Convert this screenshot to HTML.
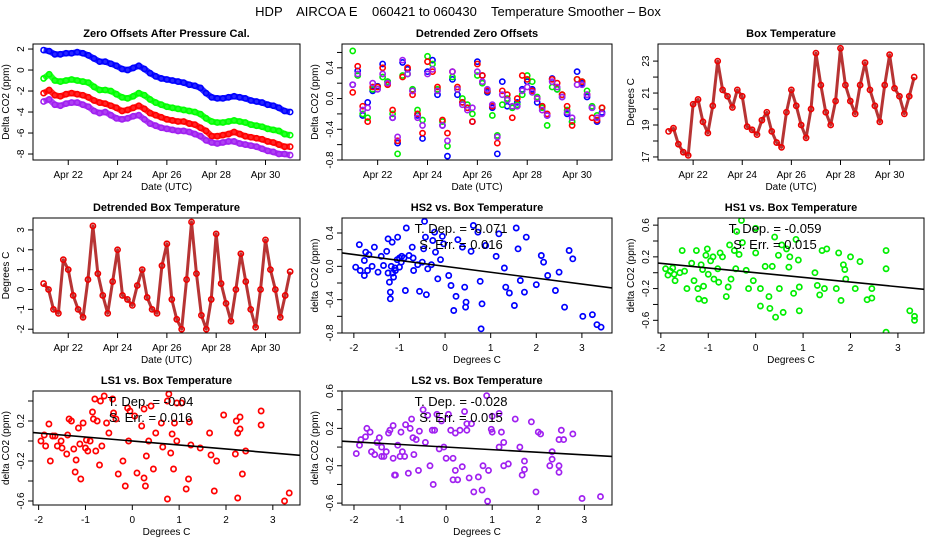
<!DOCTYPE html>
<html><head><meta charset="utf-8"><style>
html,body{margin:0;padding:0;background:#fff;}
svg{display:block;font-family:"Liberation Sans",sans-serif;}
</style></head><body>
<svg id="chart" width="936" height="540" viewBox="0 0 936 540" xmlns="http://www.w3.org/2000/svg">
<rect x="0" y="0" width="936" height="540" fill="#fff"/>
<text x="458" y="16" text-anchor="middle" font-size="13" xml:space="preserve">HDP    AIRCOA E    060421 to 060430    Temperature Smoother – Box</text>
</svg>
<script>
// ---------- DATA ----------
const startDay = 21.0;
const endDay = 31.0;
const dayTicks = [22, 24, 26, 28, 30];
const dayTickLabels = ["Apr 22", "Apr 24", "Apr 26", "Apr 28", "Apr 30"];

const zeroBlue = [1.9,1.8,1.5,1.5,1.6,1.6,1.7,1.6,1.4,1.1,0.8,0.8,0.6,0.4,0.1,0.0,0.2,0.4,0.1,-0.3,-0.6,-0.8,-0.9,-1.0,-1.1,-1.2,-1.4,-1.5,-1.7,-2.2,-2.6,-2.7,-2.7,-2.6,-2.5,-2.6,-2.7,-2.9,-3.0,-3.1,-3.3,-3.4,-3.6,-3.9,-4.0];
const zeroGreen = [-0.8,-0.4,-1.0,-1.1,-1.0,-0.9,-1.0,-1.1,-1.2,-1.6,-1.9,-1.9,-2.0,-2.3,-2.6,-2.7,-2.5,-2.2,-2.4,-2.8,-3.1,-3.3,-3.5,-3.6,-3.7,-3.8,-3.9,-4.0,-4.2,-4.6,-4.9,-5.0,-5.0,-4.9,-4.8,-4.9,-5.0,-5.2,-5.3,-5.4,-5.6,-5.7,-5.8,-6.1,-6.2];
const zeroRed = [-2.2,-1.9,-2.4,-2.5,-2.3,-2.2,-2.3,-2.4,-2.6,-2.9,-3.1,-3.2,-3.4,-3.6,-3.9,-3.8,-3.6,-3.4,-3.7,-4.1,-4.3,-4.5,-4.7,-4.8,-4.9,-4.9,-5.1,-5.2,-5.5,-5.8,-6.3,-6.3,-6.2,-6.1,-5.9,-6.1,-6.3,-6.4,-6.5,-6.6,-6.8,-6.9,-7.1,-7.3,-7.3];
const zeroPurple = [-3.0,-2.8,-3.3,-3.4,-3.2,-3.1,-3.1,-3.3,-3.5,-3.9,-4.1,-4.0,-4.3,-4.6,-4.7,-4.6,-4.4,-4.3,-4.7,-5.1,-5.3,-5.5,-5.6,-5.7,-5.8,-5.8,-5.9,-6.1,-6.3,-6.7,-6.9,-7.0,-6.9,-6.8,-6.8,-7.0,-7.1,-7.2,-7.3,-7.5,-7.7,-7.8,-8.0,-8.0,-8.1];

const detBlue = [0.18,0.36,-0.22,-0.05,0.1,0.16,0.45,0.22,-0.25,-0.58,0.47,0.38,0.1,-0.22,-0.52,0.35,0.5,0.05,-0.35,-0.75,0.25,0.05,-0.05,-0.12,-0.3,0.48,0.3,0.08,-0.12,-0.72,0.22,-0.1,-0.12,-0.05,0.12,0.22,0.12,-0.05,-0.1,-0.22,0.26,0.12,0.02,-0.2,-0.3,0.35,0.2,0.02,-0.12,-0.3,-0.18];
const detGreen = [0.62,0.3,-0.2,-0.25,0.12,0.15,0.28,0.22,-0.2,-0.72,0.3,0.32,0.12,-0.15,-0.28,0.55,0.45,0.12,-0.3,-0.62,0.28,0.12,0.0,-0.08,-0.2,0.3,0.2,0.1,-0.22,-0.48,-0.08,0.0,-0.12,-0.08,0.05,0.3,0.22,0.02,-0.12,-0.35,0.15,0.12,0.05,-0.15,-0.3,0.25,0.22,0.1,-0.1,-0.22,-0.12];
const detRed = [0.08,0.42,-0.1,-0.3,0.15,0.15,0.4,0.18,-0.15,-0.55,0.28,0.4,0.05,-0.2,-0.45,0.48,0.35,0.15,-0.28,-0.45,0.35,0.15,-0.05,-0.12,-0.3,0.45,0.3,0.1,-0.1,-0.58,0.1,0.05,-0.25,0.0,0.3,0.25,0.1,0.0,-0.1,-0.2,0.25,0.2,0.05,-0.1,-0.35,0.25,0.22,0.05,-0.25,-0.28,-0.12];
const detPurple = [0.18,0.32,-0.15,-0.12,0.2,0.12,0.32,0.2,-0.25,-0.5,0.5,0.32,0.1,-0.25,-0.35,0.32,0.38,0.1,-0.35,-0.55,0.35,0.12,-0.08,-0.15,-0.12,0.35,0.22,0.12,-0.08,-0.5,0.05,-0.02,-0.1,-0.1,0.1,0.15,0.08,0.0,-0.15,-0.22,0.22,0.15,0.02,-0.18,-0.25,0.18,0.18,0.05,-0.12,-0.25,-0.2];

const boxTemp = [18.6,18.8,17.8,17.3,17.1,20.3,20.6,19.2,18.5,20.2,23.0,21.2,20.8,20.1,21.2,20.8,18.9,18.7,18.4,19.3,19.8,18.6,17.9,17.6,19.8,21.2,20.2,19.0,18.2,20.0,23.5,21.5,19.8,19.0,20.5,23.8,21.5,20.5,19.7,21.5,22.9,21.2,20.2,19.2,21.5,23.4,21.3,20.8,19.7,20.8,22.0];
const detBoxTemp = [0.3,0.0,-1.0,-1.2,1.5,1.0,-0.3,-1.0,-1.4,0.5,3.2,0.8,-0.3,-1.2,0.4,2.0,-0.3,-0.5,-0.8,0.2,1.0,-0.4,-1.0,-1.2,1.2,2.3,-0.5,-1.5,-2.0,0.5,3.4,0.8,-1.3,-2.0,-0.5,2.8,0.3,-0.7,-1.6,0.0,1.8,0.4,-1.0,-1.9,0.0,2.5,1.0,0.0,-1.4,-0.3,0.9];

const tempTicks = [-2, -1, 0, 1, 2, 3];

const hs2Temp = [-1.96,-1.86,-1.77,-1.77,-1.74,-1.88,-1.67,-1.55,-1.47,-1.35,-1.28,-1.25,-1.22,-1.2,-1.2,-1.16,-1.13,-1.09,-1.04,-1.0,-0.96,-0.87,-0.85,-0.79,-0.72,-0.69,-0.56,-0.47,-0.45,-0.43,-0.41,-0.38,-0.27,-0.23,-0.21,-0.16,-0.06,-0.03,0.08,0.13,0.19,0.24,0.28,0.38,0.43,0.45,0.46,0.57,0.62,0.72,0.77,0.79,0.81,0.89,1.12,1.18,1.3,1.33,1.41,1.52,1.56,1.6,1.65,1.74,1.78,2.0,2.11,2.16,2.25,2.5,2.42,2.62,2.72,2.8,3.02,3.23,3.33,3.42,-1.15,-1.1,-1.05,-1.0,-0.95,-0.9,-1.25,-1.18,-0.6,-0.5,-0.3,-0.1,-0.7,-1.4,-1.6,-1.7];
const hs2CO2 = [-0.01,-0.05,-0.11,0.07,0.17,0.26,0.14,0.23,-0.07,0.01,0.18,0.33,-0.19,-0.39,-0.31,0.29,-0.13,-0.05,0.35,-0.01,0.05,-0.29,0.46,0.13,0.23,-0.05,-0.3,0.21,0.54,0.35,-0.34,-0.03,0.31,0.41,0.17,-0.15,0.36,0.27,-0.11,-0.23,-0.53,-0.36,0.32,0.23,-0.25,-0.49,-0.43,0.18,0.49,0.41,-0.18,-0.75,-0.45,0.25,0.12,0.39,-0.02,-0.25,-0.32,-0.47,0.46,0.21,-0.17,-0.31,0.35,-0.22,0.13,0.05,-0.11,-0.07,-0.29,-0.49,0.19,0.09,-0.6,-0.58,-0.7,-0.73,-0.08,-0.02,0.08,0.1,0.12,0.1,-0.08,0.0,0.02,0.05,0.02,0.08,0.1,0.12,0.0,-0.05];
const hs2Slope = -0.071;
const hs2Intercept = 0.0;

const hs1Temp = [-1.9,-1.85,-1.8,-1.75,-1.72,-1.7,-1.6,-1.55,-1.5,-1.45,-1.35,-1.3,-1.25,-1.22,-1.2,-1.15,-1.12,-1.1,-1.08,-1.05,-1.02,-1.0,-0.95,-0.9,-0.88,-0.8,-0.78,-0.75,-0.7,-0.62,-0.58,-0.55,-0.52,-0.45,-0.42,-0.4,-0.35,-0.3,-0.28,-0.2,-0.15,-0.05,0.0,0.0,0.1,0.1,0.2,0.28,0.3,0.35,0.4,0.42,0.48,0.5,0.55,0.58,0.65,0.7,0.72,0.8,0.85,0.9,0.92,0.92,1.25,1.3,1.35,1.4,1.45,1.5,1.7,1.75,1.8,1.85,1.88,1.9,2.0,2.1,2.2,2.35,2.45,2.45,2.75,2.75,2.75,3.25,3.35,3.35];
const hs1CO2 = [0.05,-0.03,0.02,0.06,-0.02,-0.1,0.0,0.28,0.02,-0.2,0.12,-0.1,0.28,-0.2,-0.33,0.1,0.04,-0.17,-0.35,0.22,0.3,-0.02,0.15,0.2,-0.08,0.05,-0.12,0.25,0.2,-0.3,-0.18,0.35,-0.08,0.28,0.05,0.52,0.23,0.66,0.38,0.03,-0.2,-0.1,0.56,0.25,-0.2,-0.42,0.08,-0.3,-0.45,0.08,0.45,-0.56,0.22,-0.2,0.35,-0.5,0.3,0.07,0.2,-0.26,0.42,0.16,-0.48,-0.18,0.0,-0.16,-0.28,0.28,-0.2,0.3,-0.2,0.25,-0.35,0.1,0.04,-0.08,0.2,-0.2,0.14,-0.34,-0.2,-0.32,0.28,0.05,-0.75,-0.48,-0.55,-0.6];
const hs1Slope = -0.059;
const hs1Intercept = 0.0;

const ls1Temp = [-1.95,-1.88,-1.85,-1.78,-1.75,-1.7,-1.65,-1.6,-1.52,-1.5,-1.4,-1.38,-1.35,-1.3,-1.25,-1.22,-1.2,-1.15,-1.12,-1.1,-1.05,-1.0,-0.98,-0.95,-0.9,-0.85,-0.83,-0.8,-0.78,-0.75,-0.7,-0.68,-0.65,-0.6,-0.55,-0.5,-0.42,-0.4,-0.35,-0.3,-0.2,-0.15,-0.1,-0.08,-0.05,0.05,0.1,0.2,0.25,0.25,0.28,0.3,0.35,0.4,0.45,0.5,0.62,0.65,0.75,0.75,0.78,0.82,0.85,0.88,0.9,0.95,0.95,1.05,1.15,1.2,1.22,1.25,1.45,1.65,1.68,1.75,1.8,1.95,2.2,2.22,2.25,2.25,2.3,2.3,2.35,2.42,2.75,2.75,3.25,3.35];
const ls1CO2 = [0.0,0.06,-0.05,0.17,-0.2,0.05,0.05,-0.05,0.0,-0.07,-0.13,0.06,0.22,0.2,-0.08,-0.31,-0.19,0.13,-0.03,-0.38,0.18,-0.07,0.01,-0.1,0.0,0.29,0.22,0.42,-0.1,0.2,-0.24,0.4,-0.05,0.45,0.18,0.08,0.42,0.28,0.22,-0.33,-0.2,-0.45,0.33,0.0,0.3,0.25,-0.32,0.15,0.32,-0.37,-0.45,-0.15,0.0,0.35,-0.28,0.08,0.18,-0.06,-0.58,0.4,0.47,-0.12,0.07,-0.28,0.18,0.0,0.38,0.38,-0.48,-0.38,0.19,-0.04,-0.07,0.08,-0.14,-0.5,-0.2,0.26,-0.13,0.2,0.08,-0.57,0.12,0.24,-0.33,-0.1,0.3,0.16,-0.6,-0.52];
const ls1Slope = -0.04;
const ls1Intercept = 0.0;

const ls2Temp = [-1.95,-1.88,-1.85,-1.75,-1.72,-1.65,-1.62,-1.55,-1.5,-1.45,-1.4,-1.4,-1.35,-1.3,-1.25,-1.22,-1.15,-1.15,-1.12,-1.1,-1.05,-1.0,-0.98,-0.95,-0.9,-0.88,-0.82,-0.78,-0.75,-0.72,-0.7,-0.65,-0.6,-0.58,-0.5,-0.45,-0.4,-0.35,-0.3,-0.28,-0.25,-0.2,-0.15,-0.1,-0.05,0.0,0.05,0.1,0.15,0.15,0.2,0.2,0.25,0.3,0.35,0.4,0.45,0.45,0.5,0.55,0.6,0.7,0.78,0.8,0.88,0.9,0.92,0.98,1.0,1.0,1.15,1.15,1.2,1.25,1.25,1.35,1.5,1.6,1.65,1.7,1.7,1.85,1.95,2.0,2.05,2.25,2.3,2.3,2.45,2.45,2.45,2.5,2.55,2.75,2.95,3.35];
const ls2CO2 = [-0.07,0.02,0.08,0.11,0.2,0.16,-0.05,-0.08,0.05,0.1,-0.1,0.0,-0.1,-0.05,0.15,0.18,-0.12,0.23,-0.3,-0.3,0.02,-0.1,0.16,-0.05,-0.1,0.24,-0.28,0.2,0.3,0.1,-0.08,0.08,-0.25,0.17,0.4,0.05,0.34,-0.2,0.18,-0.4,0.18,0.35,-0.02,0.28,0.0,-0.12,0.35,0.18,-0.12,-0.35,-0.25,0.15,-0.35,0.18,-0.21,0.38,0.25,0.18,-0.33,0.25,-0.48,-0.32,-0.46,-0.2,0.55,-0.58,-0.25,0.19,0.16,0.33,0.36,0.0,0.16,-0.2,0.05,-0.18,0.3,0.0,-0.3,-0.24,-0.15,0.27,-0.48,0.16,0.14,-0.2,-0.05,-0.13,-0.2,0.08,-0.27,0.18,0.08,0.14,-0.55,-0.53];
const ls2Slope = -0.028;
const ls2Intercept = 0.0;

// ---------- RENDERING ----------
const svg = document.getElementById('chart');
const NS = 'http://www.w3.org/2000/svg';
function mk(tag, parent, attrs) {
  const e = document.createElementNS(NS, tag);
  for (const k in attrs) e.setAttribute(k, attrs[k]);
  parent.appendChild(e);
  return e;
}
function fmt(v, dec) { return dec ? v.toFixed(dec) : String(v); }

function panel(cfg) {
  const g = mk('g', svg, {});
  
  
  const sx = v => cfg.L + (v - cfg.xmin) / (cfg.xmax - cfg.xmin) * (cfg.R - cfg.L);
  const sy = v => cfg.B - (v - cfg.ymin) / (cfg.ymax - cfg.ymin) * (cfg.B - cfg.T);
  const t = mk('text', g, {x: (cfg.L + cfg.R) / 2, y: cfg.T - 7, 'text-anchor': 'middle', 'font-size': 11, 'font-weight': 'bold'});
  
  
  t.textContent = cfg.title;
  cfg.xticks.forEach((v, i) => {
    const x = sx(v);
    const tk = mk('line', g, {x1: x, x2: x, y1: cfg.B, y2: cfg.B + 5, stroke: '#000', 'stroke-width': 1});
    
    
    const tl = mk('text', g, {x: x, y: cfg.B + 18, 'text-anchor': 'middle', 'font-size': 10});
    
    
    tl.textContent = cfg.xlabels[i];
  });
  const xl = mk('text', g, {x: (cfg.L + cfg.R) / 2, y: cfg.B + 30, 'text-anchor': 'middle', 'font-size': 10});
  
  
  xl.textContent = cfg.xlab;
  cfg.yticks.forEach(v => {
    const y = sy(v);
    const tk = mk('line', g, {x1: cfg.L - 5, x2: cfg.L, y1: y, y2: y, stroke: '#000', 'stroke-width': 1});
    
    
  });
  cfg.ylabels.forEach(v => {
    const y = sy(v);
    const tl = mk('text', g, {x: 0, y: 0, 'text-anchor': 'middle', 'font-size': 10, transform: `translate(${cfg.L - 9},${y}) rotate(-90)`});
    
    
    tl.textContent = fmt(v, cfg.ydec);
  });
  const yl = mk('text', g, {x: 0, y: 0, 'text-anchor': 'middle', 'font-size': 10, transform: `translate(${cfg.L - 24},${(cfg.T + cfg.B) / 2}) rotate(-90)`});
  
  
  yl.textContent = cfg.ylab;
  const cid = 'clip-' + cfg.name;
  const cp = mk('clipPath', g, {id: cid});
  mk('rect', cp, {x: cfg.L, y: cfg.T, width: cfg.R - cfg.L, height: cfg.B - cfg.T});
  const plot = mk('g', g, {'clip-path': `url(#${cid})`});
  
  
  const box = mk('rect', g, {x: cfg.L, y: cfg.T, width: cfg.R - cfg.L, height: cfg.B - cfg.T, fill: 'none', stroke: '#000', 'stroke-width': 1});
  
  
  return {g, plot, sx, sy, cfg};
}

function timeSeries(p, values, color, band, name, bandColor) {
  const n = values.length;
  const step = (endDay - startDay) / (n - 1);
  const pts = values.map((v, i) => `${p.sx(startDay + i * step)},${p.sy(v)}`).join(' ');
  if (band) {
    const pl = mk('polyline', p.plot, {points: pts, fill: 'none', stroke: bandColor || color, 'stroke-width': band, 'stroke-linejoin': 'round', 'stroke-opacity': 0.85});
    
    
  }
  values.forEach((v, i) => {
    const c = mk('circle', p.plot, {cx: p.sx(startDay + i * step), cy: p.sy(v), r: 2.6, fill: 'none', stroke: color, 'stroke-width': 1.6});
    
    
  });
}

function scatter(p, xs, ys, color, slope, intercept, depText, errText, name) {
  xs.forEach((x, i) => {
    const c = mk('circle', p.plot, {cx: p.sx(x), cy: p.sy(ys[i]), r: 2.6, fill: 'none', stroke: color, 'stroke-width': 1.7});
    
    
  });
  const x0 = p.cfg.xmin, x1 = p.cfg.xmax;
  const ln = mk('line', p.plot, {x1: p.sx(x0), y1: p.sy(intercept + slope * x0), x2: p.sx(x1), y2: p.sy(intercept + slope * x1), stroke: '#000', 'stroke-width': 1.6});
  
  
  const cx = (p.cfg.L + p.cfg.R) / 2 - 16;
  const a = mk('text', p.g, {x: cx, y: p.cfg.T + 15, 'text-anchor': 'middle', 'font-size': 13, 'xml:space': 'preserve'});
  
  
  a.textContent = depText;
  const b = mk('text', p.g, {x: cx, y: p.cfg.T + 31, 'text-anchor': 'middle', 'font-size': 13});
  
  
  b.textContent = errText;
}

const row1 = {T: 44, B: 160}, row2 = {T: 218, B: 333}, row3 = {T: 391, B: 505};
const col1 = {L: 33, R: 300}, col2 = {L: 342, R: 612}, col3 = {L: 658, R: 924};
const tdom = {xmin: 20.57, xmax: 31.4, xticks: dayTicks, xlabels: dayTickLabels, xlab: 'Date (UTC)'};
const sc = {xticks: tempTicks, xlabels: tempTicks.map(String), xlab: 'Degrees C', ydec: 1};

const p1 = panel(Object.assign({name: 'zero-offsets-panel', title: 'Zero Offsets After Pressure Cal.', ylab: 'Delta CO2 (ppm)', ymin: -8.57, ymax: 2.48, yticks: [-8,-6,-4,-2,0,2], ylabels: [-8,-6,-4,-2,0,2], ydec: 0}, row1, col1, tdom));
timeSeries(p1, zeroBlue, '#0000ff', 6, 'hs2-offset');
timeSeries(p1, zeroGreen, '#00ff00', 6, 'hs1-offset');
timeSeries(p1, zeroRed, '#ff0000', 6, 'ls1-offset');
timeSeries(p1, zeroPurple, '#a020f0', 6, 'ls2-offset');

const p2 = panel(Object.assign({name: 'detrended-zero-offsets-panel', title: 'Detrended Zero Offsets', ylab: 'Delta CO2 (ppm)', ymin: -0.8, ymax: 0.71, yticks: [-0.8,-0.6,-0.4,-0.2,0,0.2,0.4,0.6], ylabels: [-0.8,-0.4,0,0.4], ydec: 1}, row1, col2, tdom));
timeSeries(p2, detBlue, '#0000ff', 0, 'hs2-detrended');
timeSeries(p2, detGreen, '#00ee00', 0, 'hs1-detrended');
timeSeries(p2, detRed, '#ff0000', 0, 'ls1-detrended');
timeSeries(p2, detPurple, '#a020f0', 0, 'ls2-detrended');

const p3 = panel(Object.assign({name: 'box-temperature-panel', title: 'Box Temperature', ylab: 'Degrees C', ymin: 16.81, ymax: 24.07, yticks: [17,18,19,20,21,22,23], ylabels: [17,19,21,23], ydec: 0}, row1, col3, tdom));
timeSeries(p3, boxTemp, '#ee0000', 3, 'box-temperature', '#aa1010');

const p4 = panel(Object.assign({name: 'detrended-box-temperature-panel', title: 'Detrended Box Temperature', ylab: 'Degrees C', ymin: -2.19, ymax: 3.6, yticks: [-2,-1,0,1,2,3], ylabels: [-2,-1,0,1,2,3], ydec: 0}, row2, col1, tdom));
timeSeries(p4, detBoxTemp, '#ee0000', 3, 'detrended-box-temperature', '#aa1010');

const p5 = panel(Object.assign({name: 'hs2-vs-temperature-panel', title: 'HS2 vs. Box Temperature', ylab: 'delta CO2 (ppm)', xmin: -2.26, xmax: 3.66, ymin: -0.8, ymax: 0.58, yticks: [-0.8,-0.6,-0.4,-0.2,0,0.2,0.4], ylabels: [-0.8,-0.4,0,0.4]}, row2, col2, sc));
scatter(p5, hs2Temp, hs2CO2, '#0000ff', hs2Slope, hs2Intercept, 'T. Dep. =  -0.071', 'S. Err. = 0.016', 'hs2');

const p6 = panel(Object.assign({name: 'hs1-vs-temperature-panel', title: 'HS1 vs. Box Temperature', ylab: 'delta CO2 (ppm)', xmin: -2.06, xmax: 3.55, ymin: -0.76, ymax: 0.69, yticks: [-0.6,-0.4,-0.2,0,0.2,0.4,0.6], ylabels: [-0.6,-0.2,0.2,0.6]}, row2, col3, sc));
scatter(p6, hs1Temp, hs1CO2, '#00ee00', hs1Slope, hs1Intercept, 'T. Dep. =  -0.059', 'S. Err. = 0.015', 'hs1');

const p7 = panel(Object.assign({name: 'ls1-vs-temperature-panel', title: 'LS1 vs. Box Temperature', ylab: 'delta CO2 (ppm)', xmin: -2.12, xmax: 3.58, ymin: -0.64, ymax: 0.5, yticks: [-0.6,-0.4,-0.2,0,0.2,0.4], ylabels: [-0.6,-0.2,0.2]}, row3, col1, sc));
scatter(p7, ls1Temp, ls1CO2, '#ff0000', ls1Slope, ls1Intercept, 'T. Dep. = -0.04', 'S. Err. = 0.016', 'ls1');

const p8 = panel(Object.assign({name: 'ls2-vs-temperature-panel', title: 'LS2 vs. Box Temperature', ylab: 'delta CO2 (ppm)', xmin: -2.26, xmax: 3.6, ymin: -0.62, ymax: 0.6, yticks: [-0.6,-0.4,-0.2,0,0.2,0.4,0.6], ylabels: [-0.6,-0.2,0.2,0.6]}, row3, col2, sc));
scatter(p8, ls2Temp, ls2CO2, '#a020f0', ls2Slope, ls2Intercept, 'T. Dep. =  -0.028', 'S. Err. = 0.015', 'ls2');
</script>
</body></html>
